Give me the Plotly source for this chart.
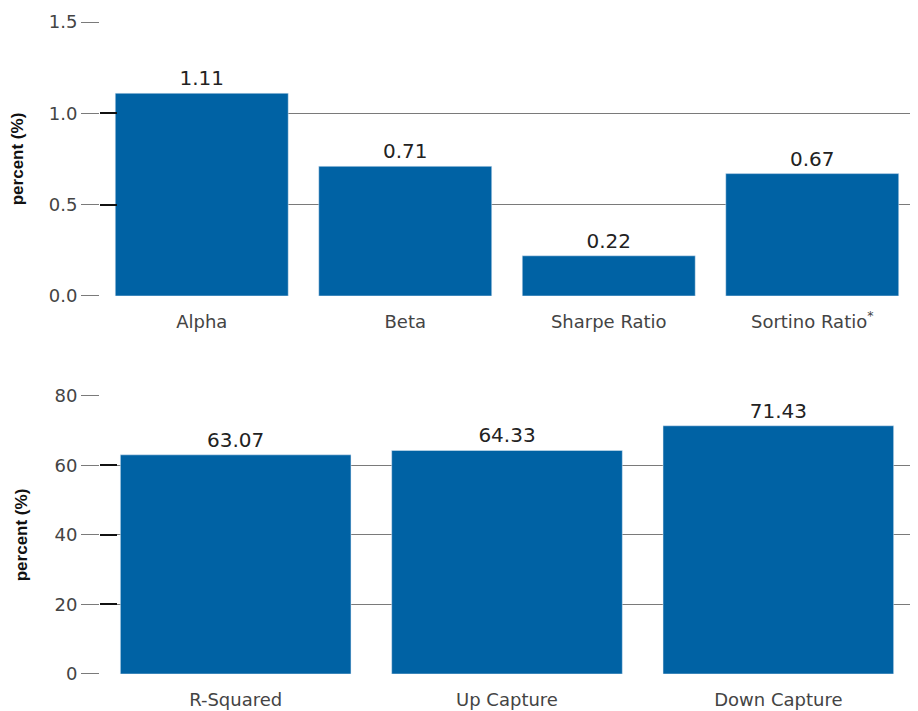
import plotly.graph_objects as go

# Data
risk_categories = ["Alpha", "Beta", "Sharpe Ratio", "Sortino Ratio<sup>*</sup>"]
risk_values = [1.11, 0.71, 0.22, 0.67]
risk_labels = ["1.11", "0.71", "0.22", "0.67"]
risk_ticks = [0.0, 0.5, 1.0, 1.5]
risk_ticktext = ["0.0", "0.5", "1.0", "1.5"]

capture_categories = ["R-Squared", "Up Capture", "Down Capture"]
capture_values = [63.07, 64.33, 71.43]
capture_labels = ["63.07", "64.33", "71.43"]
capture_ticks = [0, 20, 40, 60, 80]

BAR = "#0062A4"
GRID = "#7a7a7a"
FONT = "DejaVu Sans"

fig = go.Figure()
fig.add_trace(go.Bar(x=risk_categories, y=risk_values, text=risk_labels,
                     textposition="outside", marker_color=BAR, cliponaxis=False,
                     textfont=dict(size=20, color="#222", family=FONT),
                     xaxis="x", yaxis="y", hoverinfo="skip"))
fig.add_trace(go.Bar(x=capture_categories, y=capture_values, text=capture_labels,
                     textposition="outside", marker_color=BAR, cliponaxis=False,
                     textfont=dict(size=20, color="#222", family=FONT),
                     xaxis="x2", yaxis="y2", hoverinfo="skip"))
# invisible traces for overlay tick axes
fig.add_trace(go.Scatter(x=risk_categories, y=risk_values, mode="none",
                         xaxis="x", yaxis="y3", hoverinfo="skip", showlegend=False))
fig.add_trace(go.Scatter(x=capture_categories, y=capture_values, mode="none",
                         xaxis="x2", yaxis="y4", hoverinfo="skip", showlegend=False))

# plot heights: top 274 px, gap 100 px, bottom 278 px (total 652)
top_dom = [0.5798, 1.0]
bot_dom = [0.0, 0.4264]

yax_common = dict(ticks="outside", ticklen=18, tickcolor=GRID, tickwidth=1,
                  showgrid=True, gridcolor=GRID, gridwidth=1,
                  zeroline=False, showline=False, automargin=False,
                  tickfont=dict(size=18, color="#444", family=FONT),
                  ticklabelstandoff=0)
title_font = dict(size=17, color="#111", family="Liberation Sans", weight="bold")
xax_common = dict(showgrid=False, showline=False, ticks="", automargin=False,
                  tickfont=dict(size=18, color="#444", family=FONT),
                  ticklabelstandoff=13)

fig.update_layout(
    width=918, height=711,
    margin=dict(l=92, r=12, t=14, b=45),
    paper_bgcolor="white", plot_bgcolor="white",
    showlegend=False, bargap=0.15,
    font=dict(family=FONT),
    xaxis=dict(domain=[0, 1], anchor="y", **xax_common),
    xaxis2=dict(domain=[0, 1], anchor="y2", **xax_common),
    yaxis=dict(domain=top_dom, anchor="x", range=[0, 1.5], tickvals=risk_ticks,
               ticktext=risk_ticktext,
               title=dict(text="percent (%)", font=title_font, standoff=22),
               **yax_common),
    yaxis2=dict(domain=bot_dom, anchor="x2", range=[0, 80], tickvals=capture_ticks,
                title=dict(text="percent (%)", font=title_font, standoff=22),
                **yax_common),
    yaxis3=dict(overlaying="y", anchor="x", range=[0, 1.5], tickvals=risk_ticks,
                ticks="inside", ticklen=17, tickwidth=2, tickcolor="#111",
                automargin=False,
                showticklabels=False, showgrid=False, zeroline=False, showline=False),
    yaxis4=dict(overlaying="y2", anchor="x2", range=[0, 80], tickvals=capture_ticks,
                ticks="inside", ticklen=17, tickwidth=2, tickcolor="#111",
                automargin=False,
                showticklabels=False, showgrid=False, zeroline=False, showline=False),
)

fig.write_html("out.html")
